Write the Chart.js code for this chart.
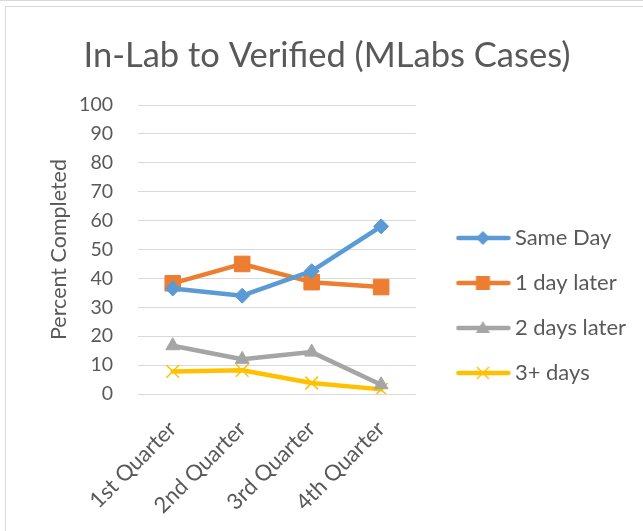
<!DOCTYPE html>
<html>
<head>
<meta charset="utf-8">
<script src="https://cdn.jsdelivr.net/npm/chart.js@4/dist/chart.umd.min.js"></script>
<style>
  html, body { margin: 0; padding: 0; background: #fff; overflow: hidden; }
  #wrap { position: relative; width: 643px; height: 531px; overflow: hidden; }
  .frame { position: absolute; border: 1px solid #d9d9d9; width: 700px; height: 600px; }
  canvas { position: absolute; left: 0; top: 0; }
</style>
</head>
<body>
<div id="wrap">
  <div class="frame" style="left:-10px; top:0px;"></div>
  <div class="frame" style="left:5px; top:6px;"></div>
  <canvas id="chart" width="643" height="531"></canvas>
</div>
<script>
// data
const quarters = ["1st Quarter", "2nd Quarter", "3rd Quarter", "4th Quarter"];
const sameDay = [36.5, 34, 42.5, 58];
const oneDayLater = [38.3, 45, 38.7, 37];
const twoDaysLater = [16.7, 12, 14.5, 3.2];
const threePlusDays = [7.8, 8.2, 3.8, 1.6];
const yTicks = [0, 10, 20, 30, 40, 50, 60, 70, 80, 90, 100];

const FONT = "Lato, 'Open Sans', sans-serif";
const TEXT = "#595959";

// legend marker: line with a marker in the middle, drawn into a small canvas
function legendIcon(color, style) {
    const c = document.createElement("canvas");
    c.width = 80; c.height = 20;
    const g = c.getContext("2d");
    g.strokeStyle = color;
    g.fillStyle = color;
    g.lineCap = "round";
    g.lineWidth = 4.5;
    g.beginPath();
    g.moveTo(27, 10); g.lineTo(77, 10);
    g.stroke();
    const cx = 51.5, cy = 10;
    g.beginPath();
    if (style === "rectRot") {
        g.moveTo(cx, cy - 7); g.lineTo(cx + 7, cy); g.lineTo(cx, cy + 7); g.lineTo(cx - 7, cy);
        g.closePath(); g.fill();
    } else if (style === "rect") {
        g.rect(cx - 7, cy - 7, 14, 14); g.fill();
    } else if (style === "triangle") {
        g.moveTo(cx, cy - 7); g.lineTo(cx + 7, cy + 5); g.lineTo(cx - 7, cy + 5);
        g.closePath(); g.fill();
    } else {
        g.lineWidth = 1.5; g.lineCap = "butt";
        g.moveTo(cx - 6, cy - 6); g.lineTo(cx + 6, cy + 6);
        g.moveTo(cx + 6, cy - 6); g.lineTo(cx - 6, cy + 6);
        g.stroke();
    }
    return c;
}

function series(label, data, color, style, radius, bw) {
    return {
        label: label,
        data: data,
        borderColor: color,
        backgroundColor: color,
        borderWidth: 4.5,
        borderCapStyle: "round",
        borderJoinStyle: "round",
        tension: 0,
        pointStyle: style,
        pointRadius: radius,
        pointHoverRadius: radius,
        pointBackgroundColor: color,
        pointBorderColor: color,
        pointBorderWidth: bw,
        legendIcon: legendIcon(color, style)
    };
}

const ctx = document.getElementById("chart").getContext("2d");
new Chart(ctx, {
    type: "line",
    data: {
        labels: quarters,
        datasets: [
            series("Same Day", sameDay, "#5B9BD5", "rectRot", 7.5, 1),
            series("1 day later", oneDayLater, "#ED7D31", "rect", 11, 1),
            series("2 days later", twoDaysLater, "#A5A5A5", "triangle", 8, 1),
            series("3+ days", threePlusDays, "#FFC000", "crossRot", 9, 1.5)
        ]
    },
    options: {
        responsive: false,
        animation: false,
        layout: { padding: { left: 18, right: 7, top: 0, bottom: 0 } },
        plugins: {
            tooltip: { enabled: false },
            title: {
                display: true,
                text: "In-Lab to Verified (MLabs Cases)",
                color: TEXT,
                font: { family: FONT, size: 34.5, weight: "normal", lineHeight: 1.2 },
                padding: { top: 34.8, bottom: 28.8 }
            },
            legend: {
                position: "right",
                maxWidth: 400,
                title: { display: true, text: "", font: { size: 1, lineHeight: 1 }, padding: { top: 79, bottom: 0 } },
                labels: {
                    color: TEXT,
                    font: { family: FONT, size: 22 },
                    padding: 23,
                    usePointStyle: true,
                    pointStyleWidth: 65,
                    generateLabels: function (chart) {
                        const items = Chart.defaults.plugins.legend.labels.generateLabels(chart);
                        items.forEach(function (it) {
                            it.pointStyle = chart.data.datasets[it.datasetIndex].legendIcon;
                        });
                        return items;
                    }
                }
            }
        },
        scales: {
            x: {
                offset: true,
                grid: { display: false },
                border: { display: false },
                ticks: {
                    color: TEXT,
                    font: { family: FONT, size: 22 },
                    minRotation: 45,
                    maxRotation: 45,
                    padding: 14
                },
                afterFit: function (scale) { scale.height = 137; }
            },
            y: {
                min: 0,
                max: 100,
                grid: { color: "#d9d9d9", lineWidth: 1, drawTicks: false },
                border: { display: false },
                afterBuildTicks: function (scale) {
                    scale.ticks = yTicks.map(function (v) { return { value: v }; });
                },
                ticks: {
                    color: TEXT,
                    font: { family: FONT, size: 19.5 },
                    padding: 25
                },
                title: {
                    display: true,
                    text: "Percent Completed",
                    color: TEXT,
                    font: { family: FONT, size: 21.5 },
                    padding: { top: 28, bottom: 0 }
                },
                afterFit: function (scale) { scale.width = 120; }
            }
        }
    }
});
</script>
</body>
</html>
